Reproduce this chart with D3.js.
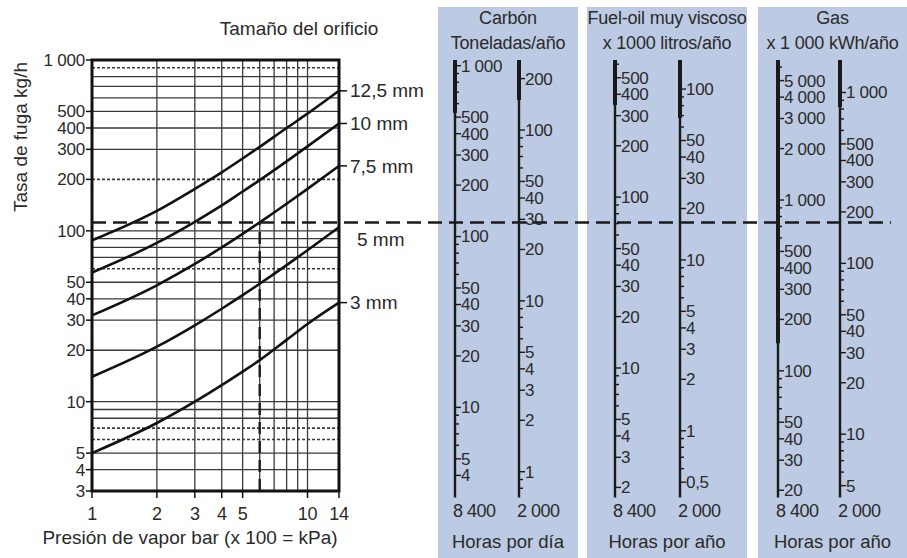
<!DOCTYPE html>
<html>
<head>
<meta charset="utf-8">
<script src="https://cdn.jsdelivr.net/npm/d3@7"></script>
<style>
  body { margin: 0; background: #fff; }
  svg { display: block; font-family: "Liberation Sans", Arial, sans-serif; }
  text { fill: #2a2a2a; }
</style>
</head>
<body>
<svg id="chart" width="907" height="558"></svg>
<script>
// leak rate (kg/h) vs vapour pressure (bar), one series per hole size
const pressure = [1, 2, 3, 4, 5, 6, 8, 10, 14];
const rate125 = [88, 131, 176, 220, 265, 310, 400, 485, 660];
const rate10 = [57, 85, 113, 141, 170, 198, 255, 312, 425];
const rate75 = [32, 48, 64, 80, 96, 112, 144, 176, 240];
const rate5 = [14, 21, 28, 35, 42, 49, 63, 77, 105];
const rate3 = [5, 7.5, 10, 12.5, 15, 17.5, 23, 28.5, 38];
const holeLabels = ["12,5 mm", "10 mm", "7,5 mm", "5 mm", "3 mm"];

const xTicks = [1, 2, 3, 4, 5, 10, 14];
const yTicks = [1000, 500, 400, 300, 200, 100, 50, 40, 30, 20, 10, 5, 4, 3];

// worked example (dashed reading line)
const readPressure = 6;
const readRate = 112;

// nomogram panels
const panelTitles = [["Carbón", "Toneladas/año"], ["Fuel-oil muy viscoso", "x 1000 litros/año"], ["Gas", "x 1 000 kWh/año"]];
const panelFooters = ["Horas por día", "Horas por año", "Horas por año"];
const hourLabels = ["8 400", "2 000"];
// units per kg/h of leak
const factor8400 = [1.08, 0.635, 6.6];
const factor2000 = [0.257, 0.148, 1.55];
const ticks8400 = [
  [1000, 500, 400, 300, 200, 100, 50, 40, 30, 20, 10, 5, 4],
  [500, 400, 300, 200, 100, 50, 40, 30, 20, 10, 5, 4, 3, 2],
  [5000, 4000, 3000, 2000, 1000, 500, 400, 300, 200, 100, 50, 40, 30, 20]
];
const ticks2000 = [
  [200, 100, 50, 40, 30, 20, 10, 5, 4, 3, 2, 1],
  [100, 50, 40, 30, 20, 10, 5, 4, 3, 2, 1, 0.5],
  [1000, 500, 400, 300, 200, 100, 50, 40, 30, 20, 10, 5]
];

const svg = d3.select("svg#chart");
const fmt = d3.formatLocale({decimal: ",", thousands: " ", grouping: [3], currency: ["", ""]}).format(",");

const x = d3.scaleLog().domain([1, 14]).range([92, 339]);
const y = d3.scaleLog().domain([3, 1000]).range([491, 60]);
const axisBottomRate = 2.75; // nomogram axes run a little below the chart

// ---- panels (drawn first, dashed line goes over them)
const panelX = [438, 587, 758];
const panelW = [140, 160, 149];
const axisX = [[455, 519], [615, 680], [778, 840]];
const thickTo = [[490, 583], [545, 458], [22, 530]];

svg.selectAll("rect.panel")
  .data(panelX)
  .enter()
  .append("rect")
  .attr("class", "panel")
  .attr("x", d => d)
  .attr("y", 7)
  .attr("width", (d, i) => panelW[i])
  .attr("height", 551)
  .attr("fill", "#bdcae3");

// ---- left chart grid
const g = svg.append("g");
const gridX = [1, 2, 3, 4, 5, 6, 7, 8, 9, 10, 14];
const gridY = [];
[1, 10, 100].forEach(dec => d3.range(1, 10).forEach(k => { if (k * dec >= 3) gridY.push(k * dec); }));
gridY.push(1000);
const dottedY = [900, 200, 60, 7, 6];

g.selectAll("line.gx")
  .data(gridX)
  .enter()
  .append("line")
  .attr("x1", d => x(d)).attr("x2", d => x(d))
  .attr("y1", y(1000)).attr("y2", y(3))
  .attr("stroke", "#3a3a3a").attr("stroke-width", 1.3);

g.selectAll("line.gy")
  .data(gridY)
  .enter()
  .append("line")
  .attr("x1", x(1)).attr("x2", x(14))
  .attr("y1", d => y(d)).attr("y2", d => y(d))
  .attr("stroke", "#3a3a3a")
  .attr("stroke-width", d => dottedY.includes(d) ? 1.6 : 1.3)
  .attr("stroke-dasharray", d => dottedY.includes(d) ? "3,2" : null);

// frame
g.append("rect")
  .attr("x", x(1)).attr("y", y(1000))
  .attr("width", x(14) - x(1)).attr("height", y(3) - y(1000))
  .attr("fill", "none").attr("stroke", "#111").attr("stroke-width", 3);

// y ticks
g.selectAll("line.yt")
  .data(yTicks)
  .enter()
  .append("line")
  .attr("x1", x(1) - 6).attr("x2", x(1))
  .attr("y1", d => y(d)).attr("y2", d => y(d))
  .attr("stroke", "#111").attr("stroke-width", 1.5);
g.selectAll("text.yt")
  .data(yTicks)
  .enter()
  .append("text")
  .attr("x", x(1) - 7)
  .attr("y", d => y(d))
  .attr("dy", "0.35em")
  .attr("text-anchor", "end")
  .attr("font-size", 17)
  .attr("letter-spacing", -0.2)
  .text(d => fmt(d));

// x ticks
g.selectAll("line.xt")
  .data(xTicks)
  .enter()
  .append("line")
  .attr("x1", d => x(d)).attr("x2", d => x(d))
  .attr("y1", y(3)).attr("y2", y(3) + 7)
  .attr("stroke", "#111").attr("stroke-width", 1.5);
g.selectAll("text.xt")
  .data(xTicks)
  .enter()
  .append("text")
  .attr("x", d => x(d))
  .attr("y", 520)
  .attr("text-anchor", "middle")
  .attr("font-size", 18)
  .attr("letter-spacing", -0.3)
  .text(d => d);

g.append("text")
  .attr("x", 190).attr("y", 544)
  .attr("text-anchor", "middle")
  .attr("font-size", 19)
  .text("Presión de vapor bar (x 100 = kPa)");

g.append("text")
  .attr("transform", "translate(27,137) rotate(-90)")
  .attr("text-anchor", "middle")
  .attr("font-size", 19)
  .text("Tasa de fuga kg/h");

g.append("text")
  .attr("x", 299).attr("y", 35)
  .attr("text-anchor", "middle")
  .attr("font-size", 19)
  .text("Tamaño del orificio");

// ---- curves
const series = [rate125, rate10, rate75, rate5, rate3];
const line = d3.line()
  .x(d => x(d[0]))
  .y(d => y(d[1]))
  .curve(d3.curveMonotoneX);

g.selectAll("path.curve")
  .data(series)
  .enter()
  .append("path")
  .attr("class", "curve")
  .attr("d", s => line(pressure.map((p, i) => [p, s[i]])))
  .attr("fill", "none")
  .attr("stroke", "#111")
  .attr("stroke-width", 2.6);

const labelDy = [0, 0, 0, 12, 0];
series.forEach(function(s, i) {
  const yy = y(s[s.length - 1]);
  if (labelDy[i] === 0) {
    g.append("line")
      .attr("x1", x(14)).attr("x2", x(14) + 8)
      .attr("y1", yy).attr("y2", yy)
      .attr("stroke", "#111").attr("stroke-width", 1.5);
  }
  g.append("text")
    .attr("x", x(14) + (labelDy[i] ? 18 : 11))
    .attr("y", yy + labelDy[i])
    .attr("dy", "0.35em")
    .attr("font-size", 19)
    .text(holeLabels[i]);
});

// ---- nomogram axes
function drawScale(ax, factor, values) {
  const s = v => y(v / factor);
  const yTop = y(1000), yBot = y(axisBottomRate);
  const lo = axisBottomRate * factor, hi = 1000 * factor;
  const minor = [];
  for (let dec = 0.1; dec <= 10000; dec *= 10) {
    [6, 7, 8, 9].forEach(k => {
      const v = Math.round(k * dec * 100) / 100;
      if (v >= lo && v <= hi) minor.push(v);
    });
  }
  svg.append("line")
    .attr("x1", ax).attr("x2", ax).attr("y1", yTop).attr("y2", yBot)
    .attr("stroke", "#1a1a1a").attr("stroke-width", 2.4);
  svg.selectAll(null)
    .data(minor)
    .enter()
    .append("line")
    .attr("x1", ax).attr("x2", ax + 4)
    .attr("y1", s).attr("y2", s)
    .attr("stroke", "#1a1a1a").attr("stroke-width", 1.4);
  svg.selectAll(null)
    .data(values)
    .enter()
    .append("line")
    .attr("x1", ax).attr("x2", ax + 6)
    .attr("y1", s).attr("y2", s)
    .attr("stroke", "#1a1a1a").attr("stroke-width", 1.4);
  svg.selectAll(null)
    .data(values)
    .enter()
    .append("text")
    .attr("x", ax + 6)
    .attr("y", s)
    .attr("dy", "0.35em")
    .attr("font-size", 17)
    .attr("letter-spacing", -0.3)
    .text(d => fmt(d));
}

panelX.forEach(function(px, i) {
  const cx = px + panelW[i] / 2;
  svg.append("text").attr("x", cx).attr("y", 24).attr("text-anchor", "middle")
    .attr("font-size", 18).attr("letter-spacing", -0.2).text(panelTitles[i][0]);
  svg.append("text").attr("x", cx).attr("y", 49).attr("text-anchor", "middle")
    .attr("font-size", 18).attr("letter-spacing", -0.2).text(panelTitles[i][1]);
  svg.append("text").attr("x", cx).attr("y", 548).attr("text-anchor", "middle")
    .attr("font-size", 18.5).text(panelFooters[i]);

  drawScale(axisX[i][0], factor8400[i], ticks8400[i]);
  drawScale(axisX[i][1], factor2000[i], ticks2000[i]);

  // heavier top part of each scale
  [0, 1].forEach(function(j) {
    svg.append("line")
      .attr("x1", axisX[i][j]).attr("x2", axisX[i][j])
      .attr("y1", y(1000)).attr("y2", y(thickTo[i][j]))
      .attr("stroke", "#1a1a1a").attr("stroke-width", 4);
    svg.append("text")
      .attr("x", axisX[i][j] - 2).attr("y", 517)
      .attr("font-size", 18).attr("letter-spacing", -0.5)
      .text(hourLabels[j]);
  });
});

// ---- dashed reading lines
svg.append("line")
  .attr("x1", x(readPressure)).attr("x2", x(readPressure))
  .attr("y1", y(3)).attr("y2", y(readRate))
  .attr("stroke", "#1a1a1a").attr("stroke-width", 2.4)
  .attr("stroke-dasharray", "12,7");
svg.append("line")
  .attr("x1", x(1)).attr("x2", 891)
  .attr("y1", y(readRate)).attr("y2", y(readRate))
  .attr("stroke", "#1a1a1a").attr("stroke-width", 2.4)
  .attr("stroke-dasharray", "14,7");
</script>
</body>
</html>
